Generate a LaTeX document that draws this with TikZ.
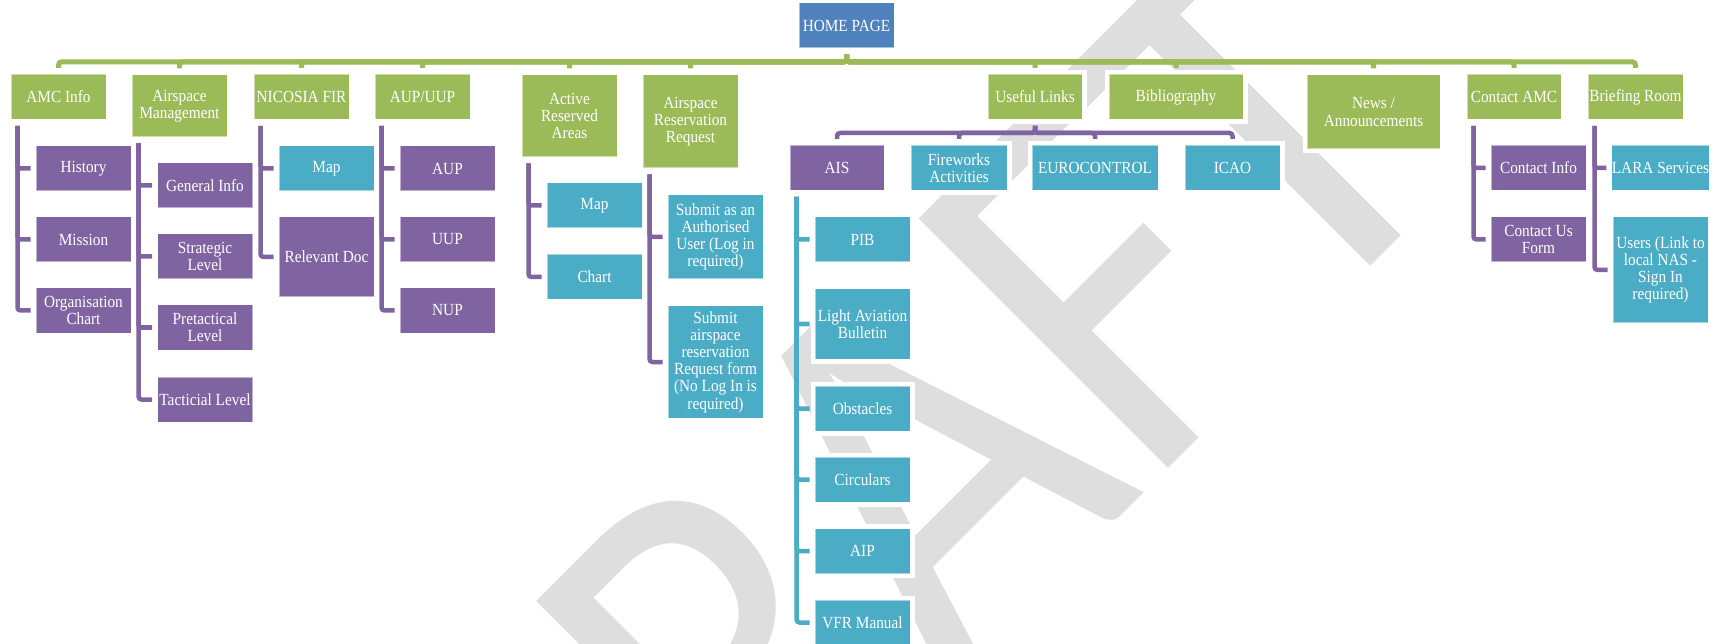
\documentclass[tikz,border=0pt]{standalone}
\usepackage{graphicx}
\usepackage{fontspec}
\setmainfont{Liberation Serif}[FakeStretch=0.9]
\newfontfamily\wmfont{Carlito}
\usepackage{tikz}

\definecolor{amcgreen}{RGB}{155,187,89}
\definecolor{amcpurple}{RGB}{128,100,162}
\definecolor{amccyan}{RGB}{75,172,198}
\definecolor{amcblue}{RGB}{79,129,189}
\definecolor{wmgray}{RGB}{222,222,222}

\begin{document}
\begin{tikzpicture}[x=1pt, y=-1pt,
	box/.style={preaction={draw=white, draw opacity=1, line width=9pt}, draw=white, draw opacity=.5, line width=1pt,
		text=white, align=center, inner sep=0pt, minimum width=95pt, minimum height=45pt,
		font=\fontsize{17}{17.2}\selectfont},
	topbox/.style={box, fill=amcgreen},
	purbox/.style={box, fill=amcpurple},
	cyabox/.style={box, fill=amccyan},
	grnline/.style={draw=amcgreen, line width=5pt, rounded corners=3pt},
	purline/.style={draw=amcpurple, line width=4.5pt, rounded corners=3pt},
	cyaline/.style={draw=amccyan, line width=4.5pt, rounded corners=3pt}]
				\useasboundingbox (0,0) rectangle (1716,644);
				% watermark
				\node[rotate=45, anchor=base, text=wmgray, inner sep=0pt] (wm) at (1010,627) {\scalebox{0.88}[1]{\wmfont\fontsize{550}{550}\selectfont DRAFT}};
				% home and first level
				\node[box, fill=amcblue] (home) at (846.5,25.5) {HOME PAGE};
				\node[topbox] (amc) at (58.5,97) {AMC Info};
				\node[topbox, minimum height=62pt] (asm) at (179.5,106) {Airspace\\Management};
				\node[topbox] (fir) at (301.5,97) {NICOSIA FIR};
				\node[topbox] (aup) at (422.5,97) {AUP/UUP};
				\node[topbox, minimum height=82pt] (ara) at (569.5,116) {Active\\Reserved\\Areas};
				\node[topbox, minimum height=93pt] (arr) at (690.5,121.5) {Airspace\\Reservation\\Request};
				\node[topbox, minimum width=94pt] (links) at (1035,97) {Useful Links};
				\node[topbox, minimum width=134pt] (biblio) at (1176,97) {Bibliography};
				\node[topbox, minimum width=133pt, minimum height=74pt] (news) at (1373.5,112) {News /\\Announcements};
				\node[topbox, minimum width=94pt] (contact) at (1514,97) {Contact AMC};
				\node[topbox] (brief) at (1635.5,97) {Briefing Room};
				% second level
				\node[purbox] (hist) at (83.5,168.5) {History};
				\node[purbox] (miss) at (83.5,239.5) {Mission};
				\node[purbox] (org) at (83.5,310.5) {Organisation\\Chart};
				\node[purbox] (gen) at (205,185.5) {General Info};
				\node[purbox] (strat) at (205,256.5) {Strategic\\Level};
				\node[purbox] (pretac) at (205,327.5) {Pretactical\\Level};
				\node[purbox] (tac) at (205,399.5) {Tacticial Level};
				\node[cyabox] (firmap) at (326.5,168.5) {Map};
				\node[purbox, minimum height=80pt] (reldoc) at (326.5,257) {Relevant Doc};
				\node[purbox] (aupb) at (447.5,168.5) {AUP};
				\node[purbox] (uupb) at (447.5,239.5) {UUP};
				\node[purbox] (nupb) at (447.5,310.5) {NUP};
				\node[cyabox] (aramap) at (594.5,205.5) {Map};
				\node[cyabox] (arachart) at (594.5,277) {Chart};
				\node[cyabox, minimum height=84pt] (subauth) at (715.5,237) {Submit as an\\Authorised\\User (Log in\\required)};
				\node[cyabox, minimum height=112pt] (subform) at (715.5,362) {Submit\\airspace\\reservation\\Request form\\(No Log In is\\required)};
				\node[purbox, minimum width=94pt] (ais) at (837,168) {AIS};
				\node[cyabox, minimum width=96pt] (fire) at (959,168) {Fireworks\\Activities};
				\node[cyabox, minimum width=126pt] (euro) at (1095,168) {EUROCONTROL};
				\node[cyabox] (icao) at (1232.5,168) {ICAO};
				\node[purbox] (cinfo) at (1538.5,168) {Contact Info};
				\node[purbox] (cform) at (1538.5,239.5) {Contact Us\\Form};
				\node[cyabox] (lara) at (1660.5,168) {LARA Services};
				\node[cyabox, minimum height=106pt] (users) at (1660.5,270) {Users (Link to\\local NAS -\\Sign In\\required)};
				% AIS pages
				\node[cyabox] (pib) at (862.5,239.5) {PIB};
				\node[cyabox, minimum height=70pt] (lab) at (862.5,324) {Light Aviation\\Bulletin};
				\node[cyabox] (obst) at (862.5,408.5) {Obstacles};
				\node[cyabox] (circ) at (862.5,479.5) {Circulars};
				\node[cyabox] (aip) at (862.5,551) {AIP};
				\node[cyabox] (vfr) at (862.5,622.5) {VFR Manual};
				% connectors
				\coordinate (bar) at (0,62);
				\coordinate (subbar) at (0,133);
				\foreach \n in {amc,asm,fir,aup,ara,arr,links,biblio,news,contact,brief}
					\draw[grnline] ([yshift=-6pt]home.south) |- (bar -| \n.north) -- ([yshift=6pt]\n.north);
				\foreach \n in {ais,fire,euro,icao}
					\draw[purline] ([yshift=-6pt]links.south) |- (subbar -| \n.north) -- ([yshift=6pt]\n.north);
				\foreach \p/\c in {amc/hist, amc/miss, amc/org, asm/gen, asm/strat, asm/pretac, asm/tac,
					fir/firmap, fir/reldoc, aup/aupb, aup/uupb, aup/nupb, ara/aramap, ara/arachart,
					arr/subauth, arr/subform, contact/cinfo, contact/cform, brief/lara, brief/users}
					\draw[purline] ([xshift=7pt,yshift=-6pt]\p.south west) |- ([xshift=-5pt]\c.west);
				\foreach \c in {pib,lab,obst,circ,aip,vfr}
					\draw[cyaline] ([xshift=7pt,yshift=-6pt]ais.south west) |- ([xshift=-5pt]\c.west);
\end{tikzpicture}
\end{document}
